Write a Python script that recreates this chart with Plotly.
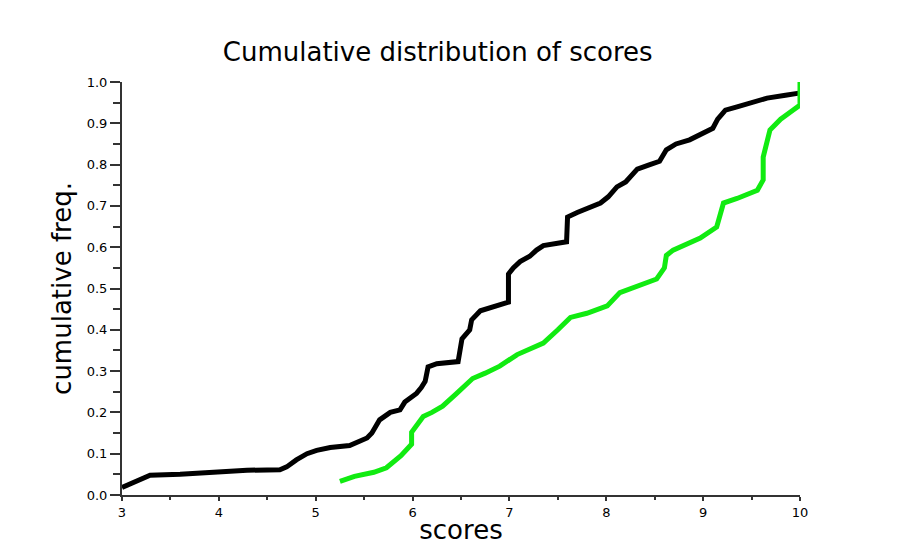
import plotly.graph_objects as go

# Black series (all scores)
black_x = [3.0, 3.19, 3.29, 3.6, 3.98, 4.29, 4.63, 4.7, 4.8, 4.91, 5.01, 5.15, 5.35, 5.53, 5.58, 5.62,
           5.66, 5.77, 5.87, 5.92, 6.04, 6.09, 6.13, 6.16, 6.25, 6.47, 6.49, 6.51, 6.59, 6.61, 6.7,
           6.99, 6.99, 7.04, 7.11, 7.21, 7.28, 7.35, 7.59, 7.6, 7.7, 7.85, 7.94, 8.02, 8.11, 8.2,
           8.32, 8.45, 8.55, 8.62, 8.72, 8.86, 8.98, 9.1, 9.15, 9.23, 9.35, 9.52, 9.66, 9.85, 9.99]
black_y = [0.018, 0.036, 0.048, 0.05, 0.056, 0.06, 0.061, 0.068, 0.085, 0.1, 0.108, 0.115, 0.12, 0.138,
           0.15, 0.168, 0.182, 0.2, 0.206, 0.225, 0.246, 0.26, 0.275, 0.31, 0.318, 0.323, 0.36, 0.378,
           0.40, 0.424, 0.446, 0.467, 0.535, 0.55, 0.565, 0.578, 0.593, 0.604, 0.613, 0.673, 0.684,
           0.697, 0.707, 0.722, 0.746, 0.758, 0.789, 0.8, 0.808, 0.836, 0.85, 0.86, 0.875, 0.888,
           0.91, 0.932, 0.94, 0.95, 0.961, 0.968, 0.973]

# Green series
green_x = [5.25, 5.4, 5.6, 5.73, 5.88, 5.99, 5.99, 6.05, 6.11, 6.2, 6.31, 6.45, 6.62, 6.75, 6.9, 7.08,
           7.2, 7.35, 7.5, 7.63, 7.8, 8.01, 8.14, 8.3, 8.52, 8.6, 8.62, 8.69, 8.85, 8.97, 9.14, 9.21,
           9.35, 9.56, 9.62, 9.62, 9.69, 9.8, 9.93, 10.0, 10.0]
green_y = [0.033, 0.045, 0.055, 0.066, 0.095, 0.123, 0.152, 0.172, 0.19, 0.2, 0.215, 0.245, 0.282,
           0.295, 0.312, 0.34, 0.352, 0.368, 0.4, 0.43, 0.44, 0.458, 0.49, 0.503, 0.523, 0.55, 0.58,
           0.593, 0.61, 0.622, 0.649, 0.707, 0.718, 0.738, 0.763, 0.818, 0.884, 0.91, 0.932, 0.944, 1.0]

x_ticks = [3, 4, 5, 6, 7, 8, 9, 10]
y_ticks = [0.0, 0.1, 0.2, 0.3, 0.4, 0.5, 0.6, 0.7, 0.8, 0.9, 1.0]

FONT = "DejaVu Sans"

fig = go.Figure()
fig.add_trace(go.Scatter(x=black_x, y=black_y, mode="lines",
                         line=dict(color="black", width=5), cliponaxis=False,
                         showlegend=False))
fig.add_trace(go.Scatter(x=green_x, y=green_y, mode="lines",
                         line=dict(color="rgb(17,235,17)", width=5), cliponaxis=False,
                         showlegend=False))

fig.update_layout(
    width=899, height=553,
    paper_bgcolor="white", plot_bgcolor="white",
    margin=dict(l=114, r=107, t=74, b=66),
    font=dict(family=FONT, color="black"),
    title=dict(text="Cumulative distribution of scores", x=0.478, xanchor="center",
               y=1 - 44 / 553, yanchor="middle", font=dict(size=26, family=FONT, color="black")),
    xaxis=dict(range=[3, 10], tickvals=x_ticks, ticktext=[str(v) for v in x_ticks],
               showgrid=False, zeroline=False, showline=True, linecolor="#333", linewidth=2,
               ticks="outside", ticklen=4, tickwidth=2, tickcolor="#333",
               minor=dict(dtick=0.5, tick0=3, ticks="outside", ticklen=3, tickwidth=2, tickcolor="#333", showgrid=False),
               tickfont=dict(size=13, family=FONT),
               title=dict(text="scores", font=dict(size=26, family=FONT), standoff=2)),
    yaxis=dict(range=[0, 1], tickvals=y_ticks, ticktext=[f"{v:.1f}" for v in y_ticks],
               showgrid=False, zeroline=False, showline=True, linecolor="#333", linewidth=2,
               ticks="outside", ticklen=10, tickwidth=2, tickcolor="#333",
               minor=dict(dtick=0.05, tick0=0, ticks="outside", ticklen=7, tickwidth=2, tickcolor="#333", showgrid=False),
               tickfont=dict(size=13, family=FONT),
               title=dict(text="cumulative freq.", font=dict(size=26, family=FONT), standoff=8)),
)

fig.write_html("out.html")
